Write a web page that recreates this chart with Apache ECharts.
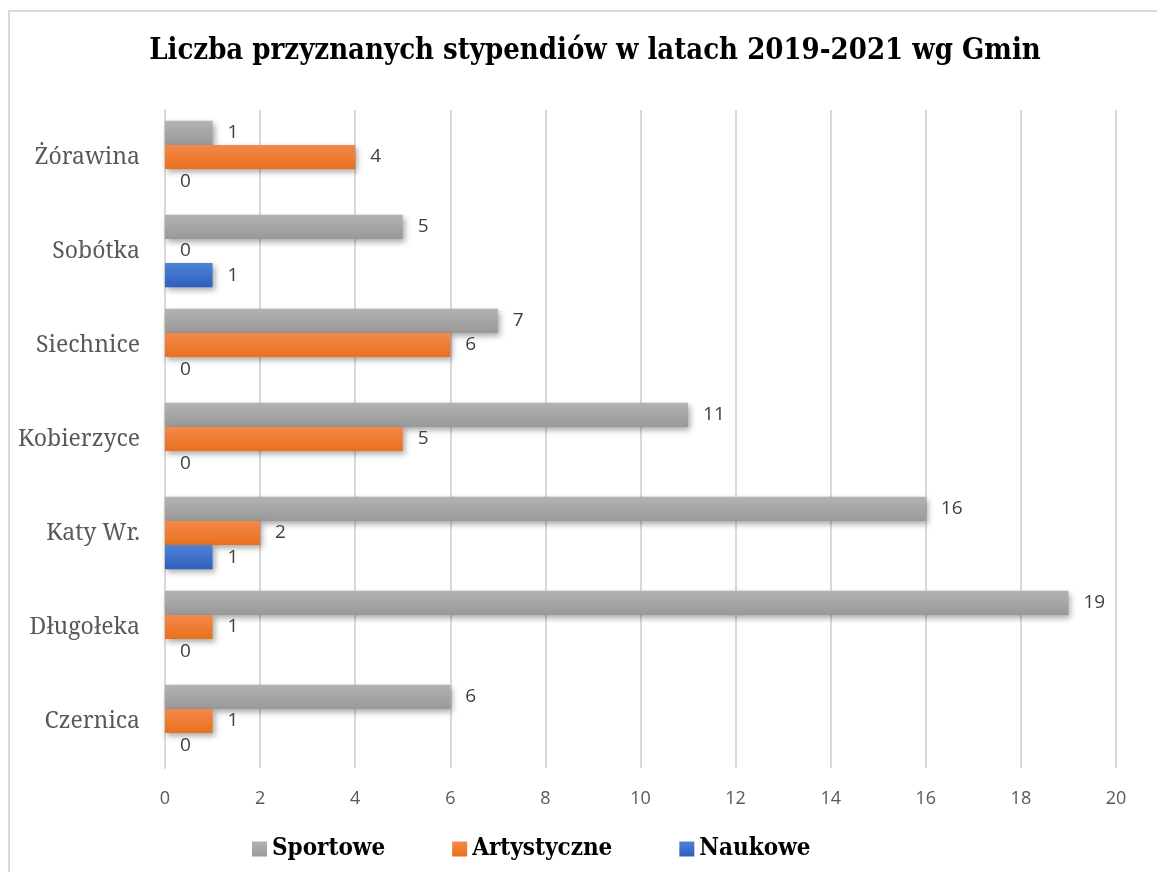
<!DOCTYPE html>
<html>
<head>
<meta charset="utf-8">
<script src="https://cdn.jsdelivr.net/npm/echarts@6/dist/echarts.min.js"></script>
<style>
  html, body { margin: 0; padding: 0; background: #fff; }
  #chart { width: 1157px; height: 872px; }
</style>
</head>
<body>
<div id="chart"></div>
<script>
// 数据
var gminy = ["Żórawina", "Sobótka", "Siechnice", "Kobierzyce", "Katy Wr.", "Długołeka", "Czernica"];
var sportowe = [1, 5, 7, 11, 16, 19, 6];
var artystyczne = [4, 0, 6, 5, 2, 1, 1];
var naukowe = [0, 1, 0, 0, 1, 0, 0];
var nazwySerii = ["Sportowe", "Artystyczne", "Naukowe"];

(function() {
  var myChart = echarts.init(document.getElementById("chart"));

  function grad(c1, c2) {
    return new echarts.graphic.LinearGradient(0, 0, 0, 1, [
      { offset: 0, color: c1 },
      { offset: 1, color: c2 }
    ]);
  }

  function seria(name, data, c1, c2) {
    return {
      name: name,
      type: "bar",
      data: data,
      barGap: 0,
      barCategoryGap: "23%",
      itemStyle: {
        color: grad(c1, c2),
        shadowColor: "rgba(0,0,0,.35)",
        shadowBlur: 6,
        shadowOffsetX: 2,
        shadowOffsetY: 3
      },
      label: {
        show: true,
        position: "right",
        distance: 15,
        color: "#404040",
        fontFamily: "Open Sans",
        fontSize: 19
      }
    };
  }

  var option = {
    animation: false,
    color: ["#a6a6a6", "#ed7d31", "#4472c4"],
    title: {
      text: "Liczba przyznanych stypendiów w latach 2019-2021 wg Gmin",
      left: 590,
      textAlign: "center",
      top: 32,
      textStyle: {
        fontFamily: "DejaVu Serif Condensed",
        fontWeight: "bold",
        fontSize: 29,
        color: "#000"
      }
    },
    legend: {
      bottom: 6,
      left: 247,
      itemWidth: 15,
      itemHeight: 15,
      itemGap: 67,
      icon: "rect",
      data: nazwySerii,
      textStyle: {
        fontFamily: "DejaVu Serif Condensed",
        fontWeight: "bold",
        fontSize: 24,
        color: "#000"
      }
    },
    grid: {
      left: 165,
      right: 41,
      top: 110,
      bottom: 104
    },
    xAxis: {
      type: "value",
      min: 0,
      max: 20,
      interval: 2,
      axisLine: { show: false },
      axisTick: { show: false },
      axisLabel: {
        margin: 22,
        color: "#595959",
        fontFamily: "Open Sans",
        fontSize: 18
      },
      splitLine: {
        lineStyle: { color: "#d9d9d9", width: 2 }
      }
    },
    yAxis: {
      type: "category",
      inverse: true,
      data: gminy,
      axisTick: { show: false },
      axisLine: {
        lineStyle: { color: "#d9d9d9", width: 2 }
      },
      axisLabel: {
        margin: 25,
        color: "#595959",
        fontFamily: "Noto Serif, DejaVu Serif",
        fontSize: 23
      }
    },
    graphic: [
      {
        type: "rect",
        shape: { x: 9, y: 11, width: 1160, height: 880 },
        style: { fill: "none", stroke: "#d9d9d9", lineWidth: 2 }
      }
    ],
    series: [
      seria("Sportowe", sportowe, "#b3b3b3", "#999999"),
      seria("Artystyczne", artystyczne, "#f4894a", "#e8701d"),
      seria("Naukowe", naukowe, "#5082d6", "#2f5fbe")
    ]
  };

  myChart.setOption(option);
  window.addEventListener("resize", function() {
    myChart.resize();
  });
})();
</script>
</body>
</html>
